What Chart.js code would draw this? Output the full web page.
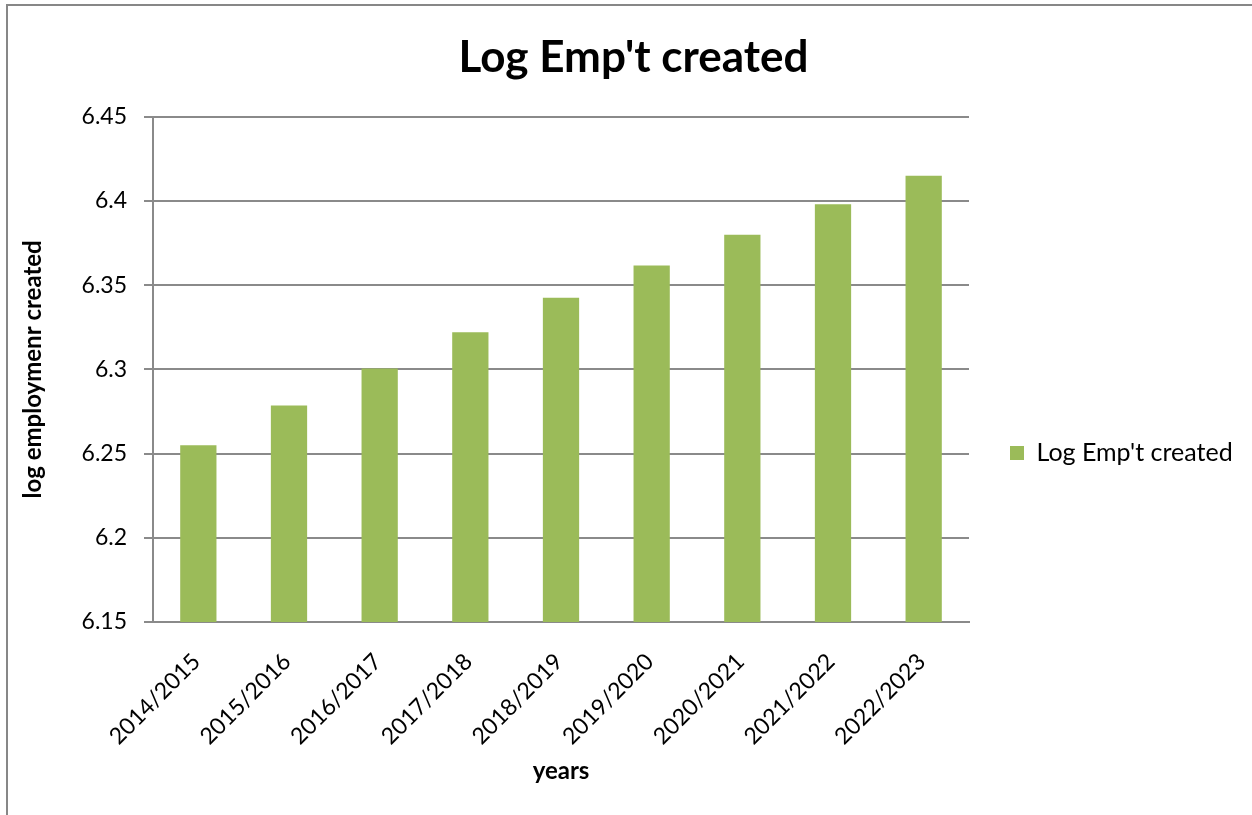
<!DOCTYPE html>
<html>
<head>
<meta charset="utf-8">
<title>Log Emp't created</title>
<script src="https://cdn.jsdelivr.net/npm/chart.js@4/dist/chart.umd.min.js"></script>
<style>
  body { margin: 0; background: #fff; overflow: hidden; }
  #wrap { position: relative; width: 1252px; height: 815px; }
  #frame {
    position: absolute; left: 6px; top: 4px; right: -10px; bottom: -10px;
    border-left: 2px solid #878787; border-top: 2px solid #878787;
    pointer-events: none;
  }
</style>
</head>
<body>
<div id="wrap">
  <canvas id="empChart" width="1252" height="815"></canvas>
  <div id="frame"></div>
</div>
<script>
const years = ['2014/2015', '2015/2016', '2016/2017', '2017/2018', '2018/2019',
  '2019/2020', '2020/2021', '2021/2022', '2022/2023'];
const logEmpCreated = [6.255, 6.2785, 6.3005, 6.322, 6.3425, 6.3617, 6.380, 6.398, 6.415];
const yMin = 6.15;
const yMax = 6.45;
const yStep = 0.05;

const GRID = '#8a8a8a';
const GREEN = '#9bbb59';
const FONT = 'Lato, "Open Sans", sans-serif';

Chart.defaults.color = '#000';
Chart.defaults.font.family = FONT;

// fixed-width legend column on the right, item sitting a bit below the middle
const legendPlacer = {
  id: 'legendPlacer',
  beforeInit(chart) {
    const lg = chart.legend;
    const fit = lg.fit;
    lg.fit = function () {
      fit.call(this);
      this.width = 283;
    };
  },
  afterLayout(chart) {
    const lg = chart.legend;
    const h = lg.bottom - lg.top;
    lg.top = 453 - h / 2;
    lg.bottom = lg.top + h;
  }
};

function createChart() {
  const ctx = document.getElementById('empChart').getContext('2d');
  return new Chart(ctx, {
    type: 'bar',
    data: {
      labels: years,
      datasets: [{
        label: "Log Emp't created",
        data: logEmpCreated,
        backgroundColor: GREEN,
        borderWidth: 0,
        barPercentage: 0.4,
        categoryPercentage: 1.0
      }]
    },
    options: {
      responsive: false,
      animation: false,
      layout: { padding: { left: 15, right: 0, top: 0, bottom: 0 } },
      plugins: {
        title: {
          display: true,
          text: "Log Emp't created",
          font: { size: 44, weight: 'bold' },
          padding: { top: 31, bottom: 33 }
        },
        legend: {
          position: 'right',
          fullSize: false,
          labels: {
            boxWidth: 14,
            boxHeight: 14,
            padding: 41,
            font: { size: 25 }
          }
        },
        tooltip: { enabled: false }
      },
      scales: {
        x: {
          grid: { display: false },
          border: { display: true, color: GRID, width: 2 },
          ticks: {
            maxRotation: 45,
            minRotation: 45,
            padding: 18,
            labelOffset: -2,
            font: { size: 23 }
          },
          title: {
            display: true,
            text: 'years',
            font: { size: 24, weight: 'bold' },
            padding: { top: 0, bottom: 29 }
          },
          afterFit(scale) { scale.height = 193; }
        },
        y: {
          min: yMin,
          max: yMax,
          grid: { color: GRID, lineWidth: 2, tickLength: 9 },
          border: { display: true, color: GRID, width: 2 },
          ticks: {
            stepSize: yStep,
            padding: 17,
            font: { size: 23 },
            callback: (v) => String(+v.toFixed(2))
          },
          title: {
            display: true,
            text: 'log employmenr created',
            font: { size: 24, weight: 'bold' },
            padding: { top: 4, bottom: 0 }
          },
          afterFit(scale) { scale.width = 138; }
        }
      }
    },
    plugins: [legendPlacer]
  });
}

createChart();
</script>
</body>
</html>
